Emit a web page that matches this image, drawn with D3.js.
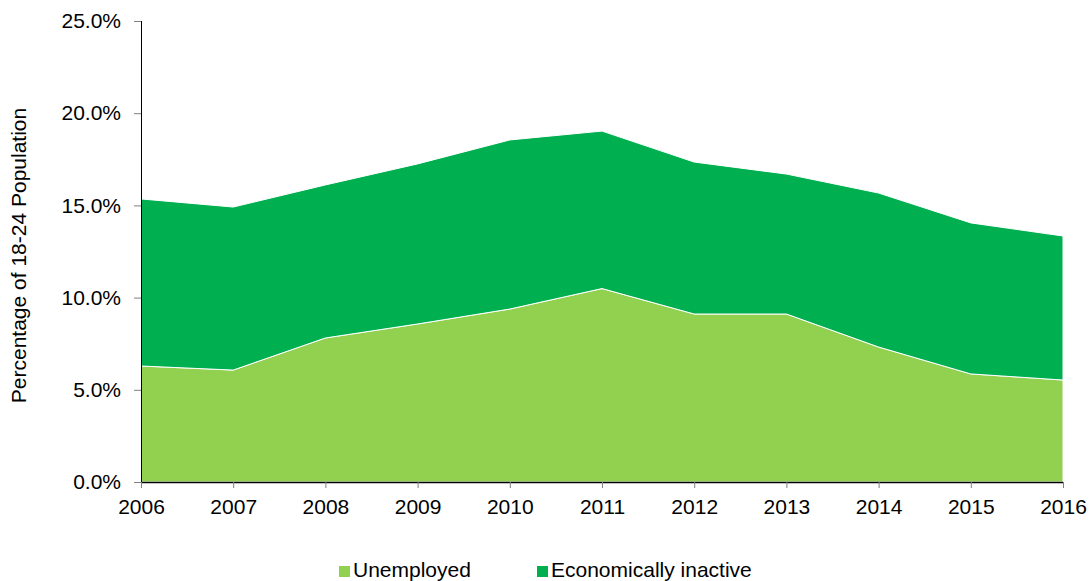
<!DOCTYPE html>
<html lang="en">
<head>
    <meta charset="UTF-8">
    <title>18-24 Population</title>
    <script src="https://d3js.org/d3.v7.min.js"></script>
    <style>
        body {
            margin: 0;
            padding: 0;
            background-color: #ffffff;
            font-family: "Liberation Sans", Arial, sans-serif;
        }
        .tick text {
            font-size: 21px;
            fill: #000;
        }
    </style>
</head>
<body>
<div id="chart"></div>

<script type="text/javascript">
    // Data (percent of 18-24 population)
    const years = [2006, 2007, 2008, 2009, 2010, 2011, 2012, 2013, 2014, 2015, 2016];
    const unemployed = [6.29, 6.07, 7.81, 8.57, 9.38, 10.49, 9.11, 9.11, 7.32, 5.86, 5.53];
    const inactive = [9.06, 8.84, 8.30, 8.68, 9.17, 8.54, 8.24, 7.59, 8.35, 8.19, 7.81];
    const yTicks = [0, 5, 10, 15, 20, 25];
    const seriesNames = ["Unemployed", "Economically inactive"];
    const seriesColors = ["#92d050", "#00b050"];

    const width = 1092, height = 581;
    const margin = { top: 21, right: 29, bottom: 99, left: 141 };

    const svg = d3.select("#chart")
        .append("svg")
        .attr("width", width)
        .attr("height", height);

    const x = d3.scaleLinear()
        .domain([years[0], years[years.length - 1]])
        .range([margin.left, width - margin.right]);

    const y = d3.scaleLinear()
        .domain([0, 25])
        .range([height - margin.bottom, margin.top]);

    const rows = years.map((yr, i) => ({ year: yr, u: unemployed[i], e: inactive[i] }));
    const stack = d3.stack().keys(["u", "e"]);
    const stacked = stack(rows);

    const area = d3.area()
        .x(d => x(d.data.year))
        .y0(d => y(d[0]))
        .y1(d => y(d[1]));

    svg.selectAll(".layer")
        .data(stacked)
        .enter().append("path")
        .attr("class", "layer")
        .attr("d", area)
        .attr("fill", (d, i) => seriesColors[i])
        .attr("stroke", "#ffffff")
        .attr("stroke-width", 1);

    // y axis
    const yAxis = svg.append("g")
        .attr("transform", `translate(${margin.left},0)`)
        .call(d3.axisLeft(y).tickValues(yTicks).tickSize(7).tickPadding(13)
            .tickFormat(d => d.toFixed(1) + "%"));
    yAxis.select(".domain").attr("stroke", "#000").attr("d", `M0.5,${y(25)}V${y(0)}`);
    yAxis.selectAll(".tick line").attr("stroke", "#808080");

    // x axis
    const xAxis = svg.append("g")
        .attr("transform", `translate(0,${y(0)})`)
        .call(d3.axisBottom(x).tickValues(years).tickSize(6).tickPadding(11)
            .tickFormat(d3.format("d")));
    xAxis.select(".domain").attr("stroke", "#000").attr("stroke-width", 1.5)
        .attr("d", `M${x(years[0])},0.5H${x(years[years.length - 1])}`);
    xAxis.selectAll(".tick line").attr("stroke", "#808080");

    // y axis title
    svg.append("text")
        .attr("transform", `translate(26,${(y(0) + y(25)) / 2 + 4}) rotate(-90)`)
        .attr("text-anchor", "middle")
        .style("font-size", "21px")
        .text("Percentage of 18-24 Population");

    // legend
    const legendX = [339, 537];
    const legend = svg.selectAll(".legend")
        .data(seriesNames)
        .enter().append("g")
        .attr("class", "legend")
        .attr("transform", (d, i) => `translate(${legendX[i]},566)`);
    legend.append("rect")
        .attr("width", 11)
        .attr("height", 11)
        .attr("fill", (d, i) => seriesColors[i]);
    legend.append("text")
        .attr("x", 14)
        .attr("y", 11)
        .style("font-size", "21px")
        .text(d => d);
</script>
</body>
</html>
